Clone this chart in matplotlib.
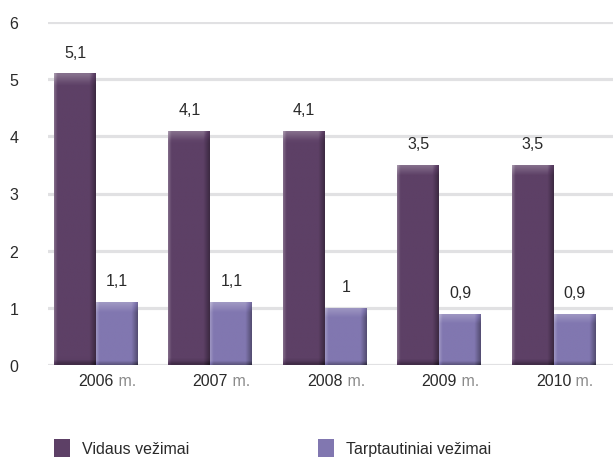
import numpy as np
import matplotlib
matplotlib.use("Agg")
import matplotlib.pyplot as plt
from matplotlib.patches import Rectangle
from matplotlib.colors import to_rgb

plt.rcParams['font.family'] = ['Liberation Sans', 'DejaVu Sans']

years = ["2006", "2007", "2008", "2009", "2010"]
year_suffix = " m."
series_names = ["Vidaus vežimai", "Tarptautiniai vežimai"]
domestic = [5.1, 4.1, 4.1, 3.5, 3.5]
international = [1.1, 1.1, 1.0, 0.9, 0.9]
value_labels = [["5,1", "4,1", "4,1", "3,5", "3,5"],
                ["1,1", "1,1", "1", "0,9", "0,9"]]
y_ticks = [0, 1, 2, 3, 4, 5, 6]

colors = ["#5d4066", "#8177b0"]
grid_color = "#e1e1e3"
text_color = "#2a2a2a"
suffix_color = "#8a8a8a"
fs = 11.5

W, H = 613, 460
fig = plt.figure(figsize=(W / 100, H / 100), dpi=100)
ax = fig.add_axes([48 / W, (H - 366) / H, (W - 48) / W, (366 - 23) / H])
ax.set_xlim(-0.42, 4.52)
ax.set_ylim(0, 6)
for s in ax.spines.values():
    s.set_visible(False)
ax.set_xticks([])
ax.set_yticks(y_ticks)
ax.set_yticklabels([str(t) for t in y_ticks], fontsize=fs, color=text_color)
ax.tick_params(axis='y', length=0, pad=24.5)
for lbl in ax.get_yticklabels():
    lbl.set_horizontalalignment('center')
for t in y_ticks:
    ax.axhline(t, color=grid_color, lw=2.3, zorder=0)


def shade(rgb, f):
    rgb = np.array(rgb)
    if f >= 0:
        return rgb + (1 - rgb) * f
    return rgb * (1 + f)


def gradient_bar(x0, w, h, color):
    base = to_rgb(color)
    rect = Rectangle((x0, 0), w, h, facecolor=color, edgecolor='none', zorder=2)
    ax.add_patch(rect)
    nx, ny = 60, 80
    u = np.linspace(0, 1, nx)
    # horizontal shading: lighter at left edge, darker at right edge
    fx = np.where(u < 0.08, 0.22 * (1 - u / 0.08), 0.0)
    fx = fx - np.where(u > 0.85, 0.35 * (u - 0.85) / 0.15, 0.0)
    img = np.zeros((ny, nx, 3))
    v = np.linspace(1, 0, ny)  # top row first
    top_px = h / 6 * 343
    for j in range(ny):
        depth_px = (1 - v[j]) * top_px
        fy = 0.0
        if depth_px < 10:
            fy = 0.25 * (1 - depth_px / 10)
        if v[j] * top_px < 4:
            fy -= 0.3 * (1 - v[j] * top_px / 4)
        for i in range(nx):
            img[j, i] = np.clip(shade(base, fx[i] + fy), 0, 1)
    im = ax.imshow(img, extent=(x0, x0 + w, 0, h), aspect='auto',
                   interpolation='bilinear', zorder=2)
    im.set_clip_path(rect)


bw = 0.367
x = np.arange(len(years))
for k, vals in enumerate([domestic, international]):
    for i, v in enumerate(vals):
        x0 = x[i] - bw + k * bw
        gradient_bar(x0, bw, v, colors[k])
        ax.annotate(value_labels[k][i], xy=(x0 + bw / 2, v), xytext=(0, 10),
                    textcoords='offset points', ha='center', va='bottom',
                    fontsize=fs, color=text_color)

for i, yr in enumerate(years):
    t = ax.annotate(yr, xy=(x[i], 0), xytext=(0, -11), textcoords='offset points',
                    ha='center', va='center', fontsize=fs, color=text_color)
    ax.annotate(year_suffix, xy=(1, 0), xycoords=t, ha='left', va='bottom',
                fontsize=fs, color=suffix_color)

ax.set_ylim(0, 6)
ax.set_xlim(-0.42, 4.52)

# legend
leg_x = [54, 318]
for k, name in enumerate(series_names):
    fig.patches.append(Rectangle((leg_x[k] / W, 2 / H), 16 / W, 18 / H,
                                 facecolor=colors[k], edgecolor='none',
                                 transform=fig.transFigure, figure=fig))
    fig.text((leg_x[k] + 28) / W, 10 / H, name, ha='left', va='center',
             fontsize=fs, color=text_color)

fig.savefig("out.png", dpi=100)
